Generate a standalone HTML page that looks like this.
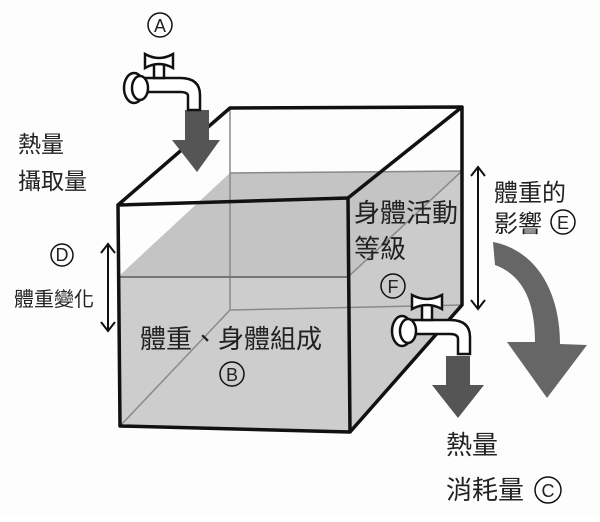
<!DOCTYPE html>
<html><head><meta charset="utf-8"><style>
body{margin:0;background:#fff;}
svg text{font-family:"Liberation Sans","Noto Sans CJK TC",sans-serif;fill:#222;}
</style></head><body>
<svg width="600" height="517" viewBox="0 0 600 517" xmlns="http://www.w3.org/2000/svg">
<rect width="600" height="517" fill="#fdfdfd"/>
<!-- water -->
<polygon points="118,277 230,173 462,171 462,305 350,432 120,426" fill="#cbcbcb"/>
<polygon points="118,277 348,277 462,171 230,173" fill="#c4c4c4"/>
<polygon points="118,277 348,277 350,432 120,426" fill="#cdcdcd"/>
<!-- hidden lines -->
<g stroke="#8a8a8a" stroke-width="1.5" fill="none">
<line x1="230" y1="108" x2="230" y2="310"/>
<line x1="230" y1="310" x2="462" y2="305"/>
<line x1="120" y1="426" x2="230" y2="310"/>
<line x1="118" y1="277" x2="348" y2="277" stroke="#777" stroke-width="2"/>
<line x1="348" y1="277" x2="462" y2="171" stroke="#888"/>
<line x1="230" y1="173" x2="462" y2="171" stroke="#888"/>
</g>
<!-- box outlines -->
<g stroke="#111" stroke-width="3.5" fill="none" stroke-linejoin="round">
<polygon points="118,205 348,198 350,432 120,426"/>
<polyline points="118,205 230,108 462,107 348,198"/>
<polyline points="462,107 462,305 350,432"/>
</g>
<!-- arrows down -->
<polygon points="185,110 209,110 209,140 220,140 197,172 172,140 185,140" fill="#555"/>
<polygon points="446,356 470,356 470,385 484,385 458,418 432,385 446,385" fill="#555"/>
<!-- curved arrow -->
<path d="M493,242 C535,250 560,290 560,344 L587,345 L547,398 L507,342 L535,342 C535,300 522,275 495,265 Z" fill="#666"/>
<!-- faucets -->
<g stroke="#111" stroke-width="2.5" fill="#fff">
<path d="M138,78 L180,78 Q200,78 200,95 L200,110 L188,110 L188,96 Q188,92 180,92 L138,92 Z"/>
<ellipse cx="134" cy="88" rx="10" ry="15"/>
<ellipse cx="140" cy="88" rx="8" ry="12"/>
<rect x="154" y="64" width="10" height="14"/>
<path d="M145,54 Q159,62 173,54 L173,68 Q159,60 145,68 Z"/>
<path d="M406,320 L450,320 Q470,320 470,337 L470,354 L458,354 L458,339 Q458,334 450,334 L406,334 Z"/>
<ellipse cx="402" cy="331" rx="10" ry="15"/>
<ellipse cx="408" cy="331" rx="8" ry="12"/>
<rect x="422" y="304" width="10" height="16"/>
<path d="M412,295 Q427,303 442,295 L442,309 Q427,301 412,309 Z"/>
</g>
<!-- double arrows -->
<g stroke="#111" stroke-width="2" fill="none">
<line x1="108" y1="245" x2="108" y2="330"/><polyline points="101,253 108,244 115,253"/><polyline points="101,322 108,331 115,322"/>
<line x1="478" y1="168" x2="478" y2="308"/><polyline points="471,176 478,167 485,176"/><polyline points="471,300 478,309 485,300"/>
</g>
<!-- circles -->
<g stroke="#111" stroke-width="1.5" fill="none">
<circle cx="160" cy="25" r="12"/><circle cx="62" cy="255" r="11"/><circle cx="563" cy="222" r="12"/>
<circle cx="393" cy="286" r="12"/><circle cx="232" cy="374" r="12"/><circle cx="548" cy="490" r="13"/>
</g>
<g font-size="18" text-anchor="middle">
<text x="160" y="32">A</text><text x="62" y="261">D</text><text x="563" y="229">E</text>
<text x="393" y="293">F</text><text x="232" y="381">B</text><text x="548" y="497">C</text>
</g>
<g font-size="23">
<text x="18" y="152">熱量</text><text x="18" y="189">攝取量</text>
<text x="14" y="306" font-size="20">體重變化</text>
<text x="494" y="201" font-size="24">體重的</text><text x="494" y="232" font-size="24">影響</text>
<text x="354" y="222" font-size="26">身體活動</text><text x="354" y="258" font-size="26">等級</text>
<text x="140" y="348" font-size="26">體重、身體組成</text>
<text x="446" y="454" font-size="26">熱量</text><text x="446" y="499" font-size="26">消耗量</text>
</g>
</svg>
</body></html>
